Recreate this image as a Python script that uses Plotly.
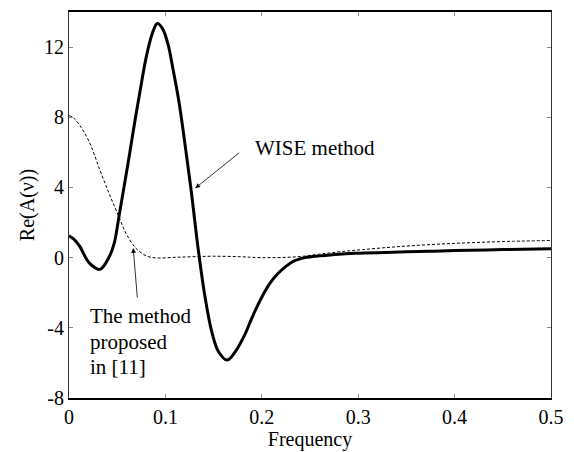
import plotly.graph_objects as go

# WISE method estimate of Re(A(nu))
wise_freq = [0, 0.005, 0.011, 0.021, 0.032, 0.042, 0.047, 0.052, 0.061, 0.069, 0.075, 0.080,
             0.086, 0.0915, 0.097, 0.103, 0.107, 0.114, 0.120, 0.127, 0.134, 0.141, 0.148,
             0.155, 0.164, 0.172, 0.182, 0.190, 0.199, 0.208, 0.216, 0.225, 0.233, 0.245,
             0.260, 0.280, 0.300, 0.320, 0.350, 0.373, 0.400, 0.450, 0.500]
wise_re = [1.25, 1.05, 0.65, -0.3, -0.67, 0.08, 0.84, 2.4, 5.3, 8.0, 9.9, 11.4,
           12.7, 13.35, 13.05, 12.1, 11.0, 8.9, 6.6, 3.7, 0.5, -2.2, -4.2,
           -5.35, -5.84, -5.4, -4.43, -3.4, -2.36, -1.5, -0.95, -0.5, -0.2, 0.0,
           0.1, 0.2, 0.25, 0.28, 0.33, 0.36, 0.40, 0.46, 0.50]

# Estimate from the method proposed in [11]
ref_freq = [0, 0.005, 0.011, 0.021, 0.032, 0.042, 0.052, 0.059, 0.069, 0.081, 0.093,
            0.110, 0.127, 0.150, 0.178, 0.200, 0.237, 0.260, 0.280, 0.305, 0.340,
            0.380, 0.420, 0.460, 0.500]
ref_re = [8.1, 7.95, 7.55, 6.6, 5.0, 3.6, 2.3, 1.4, 0.56, 0.08, -0.02,
          0.02, 0.05, 0.08, 0.05, 0.0, 0.05, 0.2, 0.33, 0.46, 0.62,
          0.76, 0.86, 0.93, 0.98]

x_ticks = [0, 0.1, 0.2, 0.3, 0.4, 0.5]
x_tick_text = ["0", "0.1", "0.2", "0.3", "0.4", "0.5"]
y_ticks = [-8, -4, 0, 4, 8, 12]
y_tick_text = ["-8", "-4", "0", "4", "8", "12"]

serif = "Liberation Serif, Times New Roman, serif"

fig = go.Figure()
fig.add_trace(go.Scatter(x=ref_freq, y=ref_re, mode="lines",
                         line=dict(color="black", width=1, dash="3px,2px", shape="spline"),
                         showlegend=False))
fig.add_trace(go.Scatter(x=wise_freq, y=wise_re, mode="lines",
                         line=dict(color="black", width=3, shape="spline"),
                         showlegend=False))

ann_font = dict(family=serif, size=21, color="black")
annotations = [
    # arrow to the WISE curve
    dict(x=0.131, y=3.96, ax=0.178, ay=6.04, xref="x", yref="y", axref="x", ayref="y",
         text="", showarrow=True, arrowhead=2, arrowsize=1.2, arrowwidth=0.8, arrowcolor="black"),
    dict(x=0.1906, y=6.27, xref="x", yref="y", text="WISE method", showarrow=False,
         xanchor="left", yanchor="middle", font=ann_font),
    # arrow to the dashed curve
    dict(x=0.0666, y=0.545, ax=0.071, ay=-2.36, xref="x", yref="y", axref="x", ayref="y",
         text="", showarrow=True, arrowhead=2, arrowsize=1.2, arrowwidth=0.8, arrowcolor="black"),
    dict(x=0.0195, y=-3.34, xref="x", yref="y", text="The method", showarrow=False,
         xanchor="left", yanchor="middle", font=ann_font),
    dict(x=0.0195, y=-4.80, xref="x", yref="y", text="proposed", showarrow=False,
         xanchor="left", yanchor="middle", font=ann_font),
    dict(x=0.0195, y=-6.22, xref="x", yref="y", text="in [11]", showarrow=False,
         xanchor="left", yanchor="middle", font=ann_font),
]

fig.update_layout(
    width=574, height=452,
    margin=dict(l=69, r=17, t=10, b=52),
    paper_bgcolor="white", plot_bgcolor="white",
    font=dict(family=serif, size=20, color="black"),
    annotations=annotations,
    xaxis=dict(range=[0, 0.5], tickvals=x_ticks, ticktext=x_tick_text,
               ticks="inside", ticklen=4, tickcolor="#888", mirror="ticks",
               showline=True, linecolor="black", linewidth=1.5, showgrid=False, zeroline=False,
               title=dict(text="Frequency", font=dict(family=serif, size=20), standoff=0),
               tickfont=dict(family=serif, size=20)),
    yaxis=dict(range=[-8, 14], tickvals=y_ticks, ticktext=y_tick_text,
               ticks="inside", ticklen=4, tickcolor="#888", mirror="ticks",
               showline=True, linecolor="#333", linewidth=1, showgrid=False, zeroline=False,
               title=dict(text="Re(A(ν))", font=dict(family=serif, size=20), standoff=4),
               tickfont=dict(family=serif, size=20)),
)

fig.write_html("out.html")
